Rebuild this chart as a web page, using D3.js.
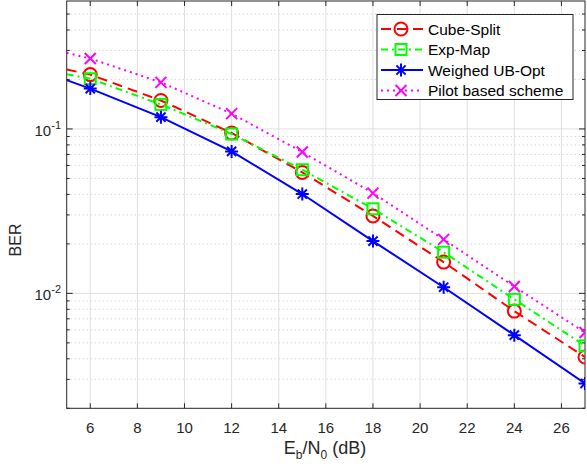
<!DOCTYPE html>
<html>
<head>
<meta charset="utf-8">
<script src="https://cdn.jsdelivr.net/npm/d3@7"></script>
<style>
  body { margin: 0; background: #fff; }
  svg { display: block; font-family: "Liberation Sans", Arial, sans-serif; }
</style>
</head>
<body>
<script>
"use strict";
(function(){
    // Eb/N0 points (5 dB is the line start, markers from 6 on)
    const snr = [5, 6, 9, 12, 15, 18, 21, 24, 27]
    const cubeSplit = [0.230, 0.214, 0.149, 0.0945, 0.0544, 0.0296, 0.0155, 0.0078, 0.0041]
    const expMap = [0.215, 0.202, 0.141, 0.0932, 0.0565, 0.0327, 0.0178, 0.0092, 0.0048]
    const weighedUB = [0.198, 0.176, 0.118, 0.073, 0.0402, 0.0208, 0.0109, 0.00557, 0.00283]
    const pilot = [0.290, 0.268, 0.192, 0.124, 0.0724, 0.0407, 0.0213, 0.0110, 0.00578]
    const seriesNames = ["Cube-Split", "Exp-Map", "Weighed UB-Opt", "Pilot based scheme"]
    const xTicks = [6, 8, 10, 12, 14, 16, 18, 20, 22, 24, 26]
    const yMajor = [0.01, 0.1]

    const measurements = {
        width: 587,
        height: 467,
        left: 66.7,
        right: 585,
        top: 1,
        bottom: 408.3
    }

    const styles = [
        { color: "#ff0000", dash: "10,6", marker: "circle" },
        { color: "#00ff00", dash: "7,4,2,4", marker: "square" },
        { color: "#0000ff", dash: null, marker: "star" },
        { color: "#ff00ff", dash: "2,4", marker: "cross" }
    ]
    const allSeries = [cubeSplit, expMap, weighedUB, pilot]

    let svg = d3.select("body").append("svg")
        .attr("width", measurements.width)
        .attr("height", measurements.height)

    let scaleX = d3.scaleLinear()
        .domain([5, 27])
        .range([measurements.left, measurements.right])
    let scaleY = d3.scaleLog()
        .domain([0.002, 0.6])
        .range([measurements.bottom, measurements.top])

    // minor values for log grid
    let yMinor = []
    ;[0.001, 0.01, 0.1].forEach(function(dec) {
        for (let k = 2; k <= 9; k++) {
            let v = dec * k
            if (v >= 0.002 && v <= 0.6) yMinor.push(v)
        }
    })

    // grid
    let grid = svg.append("g")
    grid.selectAll(".ymin").data(yMinor).enter().append("line")
        .attr("x1", measurements.left).attr("x2", measurements.right)
        .attr("y1", d => scaleY(d)).attr("y2", d => scaleY(d))
        .attr("stroke", "#c6c6c6").attr("stroke-width", 1)
        .attr("stroke-dasharray", "1,3")
    grid.selectAll(".ymaj").data(yMajor).enter().append("line")
        .attr("x1", measurements.left).attr("x2", measurements.right)
        .attr("y1", d => scaleY(d)).attr("y2", d => scaleY(d))
        .attr("stroke", "#dfdfdf").attr("stroke-width", 1)
    grid.selectAll(".xmaj").data(xTicks).enter().append("line")
        .attr("y1", measurements.top).attr("y2", measurements.bottom)
        .attr("x1", d => scaleX(d)).attr("x2", d => scaleX(d))
        .attr("stroke", "#dfdfdf").attr("stroke-width", 1)

    // box and ticks
    const axisColor = "#262626"
    svg.append("rect")
        .attr("x", measurements.left).attr("y", measurements.top)
        .attr("width", measurements.right - measurements.left)
        .attr("height", measurements.bottom - measurements.top)
        .attr("fill", "none").attr("stroke", axisColor).attr("stroke-width", 1)

    let ticks = svg.append("g").attr("stroke", axisColor).attr("stroke-width", 1)
    xTicks.forEach(function(t) {
        let x = scaleX(t)
        ticks.append("line").attr("x1", x).attr("x2", x)
            .attr("y1", measurements.bottom).attr("y2", measurements.bottom - 5)
        ticks.append("line").attr("x1", x).attr("x2", x)
            .attr("y1", measurements.top).attr("y2", measurements.top + 5)
    })
    yMajor.forEach(function(t) {
        let y = scaleY(t)
        ticks.append("line").attr("x1", measurements.left).attr("x2", measurements.left + 6)
            .attr("y1", y).attr("y2", y)
        ticks.append("line").attr("x1", measurements.right).attr("x2", measurements.right - 6)
            .attr("y1", y).attr("y2", y)
    })
    yMinor.forEach(function(t) {
        let y = scaleY(t)
        ticks.append("line").attr("x1", measurements.left).attr("x2", measurements.left + 3)
            .attr("y1", y).attr("y2", y)
        ticks.append("line").attr("x1", measurements.right).attr("x2", measurements.right - 3)
            .attr("y1", y).attr("y2", y)
    })

    // tick labels
    svg.selectAll(".xlab").data(xTicks).enter().append("text")
        .attr("x", d => scaleX(d)).attr("y", 433)
        .attr("text-anchor", "middle").attr("font-size", 15).attr("fill", axisColor)
        .text(d => d)
    yMajor.forEach(function(t) {
        let lab = svg.append("text")
            .attr("x", 61).attr("y", scaleY(t) + 7)
            .attr("text-anchor", "end").attr("font-size", 15).attr("fill", axisColor)
        lab.append("tspan").text("10")
        lab.append("tspan").attr("dy", -7).attr("font-size", 11).text(String(Math.round(Math.log10(t))))
    })

    // axis titles
    svg.append("text")
        .attr("transform", "translate(21,240) rotate(-90)")
        .attr("text-anchor", "middle").attr("font-size", 16).attr("fill", axisColor)
        .text("BER")
    let xTitle = svg.append("text")
        .attr("x", 325).attr("y", 454)
        .attr("text-anchor", "middle").attr("font-size", 18).attr("fill", axisColor)
    xTitle.append("tspan").text("E")
    xTitle.append("tspan").attr("dy", 5).attr("font-size", 12).text("b")
    xTitle.append("tspan").attr("dy", -5).text("/N")
    xTitle.append("tspan").attr("dy", 5).attr("font-size", 12).text("0")
    xTitle.append("tspan").attr("dy", -5).text(" (dB)")

    // clip
    svg.append("clipPath").attr("id", "plotclip").append("rect")
        .attr("x", measurements.left).attr("y", measurements.top)
        .attr("width", measurements.right - measurements.left)
        .attr("height", measurements.bottom - measurements.top)

    function drawMarker(g, type, x, y, color) {
        if (type == "circle") {
            g.append("circle").attr("cx", x).attr("cy", y).attr("r", 6.5)
                .attr("fill", "none").attr("stroke", color).attr("stroke-width", 2)
        } else if (type == "square") {
            g.append("rect").attr("x", x - 5.5).attr("y", y - 5.5).attr("width", 11).attr("height", 11)
                .attr("fill", "none").attr("stroke", color).attr("stroke-width", 2)
        } else if (type == "star") {
            let r = 6.5, d = r * 0.707
            g.append("path")
                .attr("d", "M" + (x - r) + "," + y + "L" + (x + r) + "," + y +
                    "M" + x + "," + (y - r) + "L" + x + "," + (y + r) +
                    "M" + (x - d) + "," + (y - d) + "L" + (x + d) + "," + (y + d) +
                    "M" + (x - d) + "," + (y + d) + "L" + (x + d) + "," + (y - d))
                .attr("stroke", color).attr("stroke-width", 2).attr("fill", "none")
        } else {
            let r = 5.5
            g.append("path")
                .attr("d", "M" + (x - r) + "," + (y - r) + "L" + (x + r) + "," + (y + r) +
                    "M" + (x - r) + "," + (y + r) + "L" + (x + r) + "," + (y - r))
                .attr("stroke", color).attr("stroke-width", 2).attr("fill", "none")
        }
    }

    let plot = svg.append("g").attr("clip-path", "url(#plotclip)")
    let line = d3.line()
        .x((d, i) => scaleX(snr[i]))
        .y(d => scaleY(d))

    allSeries.forEach(function(values, s) {
        let st = styles[s]
        let path = plot.append("path")
            .attr("d", line(values))
            .attr("fill", "none").attr("stroke", st.color).attr("stroke-width", 2)
        if (st.dash) path.attr("stroke-dasharray", st.dash)
        values.forEach(function(v, i) {
            if (i == 0) return
            drawMarker(plot, st.marker, scaleX(snr[i]), scaleY(v), st.color)
        })
    })

    // legend
    let legend = svg.append("g")
    legend.append("rect")
        .attr("x", 377).attr("y", 14.5).attr("width", 196).attr("height", 85)
        .attr("fill", "#fff").attr("stroke", axisColor).attr("stroke-width", 1)
    seriesNames.forEach(function(name, s) {
        let st = styles[s]
        let y = 29 + s * 20.5
        let l = legend.append("line")
            .attr("x1", 381).attr("x2", 423).attr("y1", y).attr("y2", y)
            .attr("stroke", st.color).attr("stroke-width", 2)
        if (st.dash) l.attr("stroke-dasharray", st.dash)
        drawMarker(legend, st.marker, 401, y, st.color)
        legend.append("text")
            .attr("x", 428).attr("y", y + 5.5)
            .attr("font-size", 15.5).attr("fill", "#000")
            .text(name)
    })
})()
</script>
</body>
</html>
